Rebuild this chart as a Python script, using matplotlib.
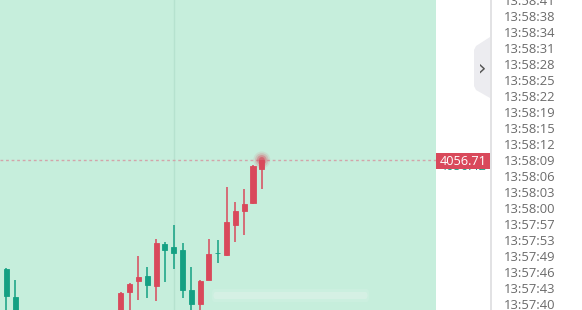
import matplotlib
matplotlib.use("Agg")
import matplotlib.pyplot as plt
from matplotlib.patches import Rectangle, Polygon, FancyBboxPatch

# ---------------- data ----------------
idx    = [0, 1, 13, 14, 15, 16, 17, 18, 19, 20, 21, 22, 23, 24, 25, 26, 27, 28, 29]
opens  = [4051.26, 4049.86, 4048.81, 4050.11, 4050.66, 4050.91, 4050.41, 4052.51, 4052.36, 4052.21,
          4050.21, 4049.51, 4050.71, 4052.06, 4051.96, 4053.46, 4054.16, 4054.56, 4056.26]
highs  = [4051.31, 4050.71, 4050.11, 4050.56, 4051.91, 4051.36, 4052.76, 4052.61, 4053.46, 4052.56,
          4051.36, 4050.71, 4052.76, 4052.71, 4055.36, 4054.61, 4055.26, 4056.46, 4056.71]
lows   = [4048.80, 4048.50, 4048.60, 4048.96, 4049.71, 4049.81, 4049.66, 4050.61, 4051.26, 4049.81,
          4049.11, 4049.11, 4050.71, 4051.56, 4051.91, 4052.61, 4052.96, 4054.51, 4055.26]
closes = [4049.91, 4048.71, 4050.06, 4050.51, 4050.86, 4050.46, 4052.56, 4052.21, 4052.06, 4050.21,
          4049.51, 4050.66, 4052.01, 4052.04, 4053.61, 4054.16, 4054.51, 4056.41, 4056.71]
last_price = 4056.71
other_price = 4056.42
grid_index = 19
time_labels = ["13:58:41", "13:58:38", "13:58:34", "13:58:31", "13:58:28", "13:58:25",
               "13:58:22", "13:58:19", "13:58:15", "13:58:12", "13:58:09", "13:58:06",
               "13:58:03", "13:58:00", "13:57:57", "13:57:53", "13:57:49", "13:57:46",
               "13:57:43", "13:57:40"]

# ---------------- style ----------------
BG = "#c6eedc"
UP = "#d9495b"
DOWN = "#14a083"
W, H = 582, 310
plt.rcParams['font.family'] = ['Open Sans', 'DejaVu Sans']

fig = plt.figure(figsize=(W / 100, H / 100), dpi=100)
fig.patch.set_facecolor("white")

ax = fig.add_axes([0, 0, 436 / W, 1])
ax.set_facecolor(BG)
step = 8.81
x0 = -6.3 / step
ax.set_xlim(x0, x0 + 436 / step)
ptop = last_price + 160 * 0.05
ax.set_ylim(ptop - 310 * 0.05, ptop)
for s in ax.spines.values():
    s.set_visible(False)
ax.set_xticks([])
ax.set_yticks([])

# vertical grid line
ax.axvline(grid_index, color="#b6e2cf", lw=1.0, zorder=1)
# dotted price line
ax.axhline(last_price, color="#d3a4aa", lw=1.0, ls=(0, (2, 2)), zorder=2)

# candles
for i, o, h, l, c in zip(idx, opens, highs, lows, closes):
    col = UP if c >= o else DOWN
    ax.vlines(i, l, h, color=col, lw=1.1, zorder=3)
    lo, hi = min(o, c), max(o, c)
    ax.bar(i, max(hi - lo, 0.01), bottom=lo, width=0.58, color=col,
           edgecolor=col, linewidth=0.6, zorder=4)

# glow on last candle
li, lc = idx[-1], closes[-1]
for r, a in [(150, 0.10), (95, 0.18), (50, 0.35), (18, 0.6)]:
    ax.scatter([li], [lc], s=r, color=UP, alpha=a, edgecolors="none", zorder=5)

# faint blurred watermark at bottom
for pad, a in [(0.0, 0.18), (0.15, 0.08)]:
    ax.add_patch(FancyBboxPatch((x0 + 213 / step, ptop - 299 * 0.05), 155 / step, 7 * 0.05,
                                boxstyle=f"round,pad={pad},rounding_size=0.3",
                                facecolor="#e8f5ef", alpha=a * 2, edgecolor="none", zorder=2))

# ---------------- right panel (figure pixel coords) ----------------
def fx(px):
    return px / W

def fy(py):
    return 1 - py / H

# separator line
fig.add_artist(Rectangle((fx(489.5), 0), 2 / W, 1, transform=fig.transFigure,
                         facecolor="#e2e2e4", edgecolor="none"))
# collapse tab
tab = Polygon([(fx(490), fy(37)), (fx(476), fy(46)), (fx(474), fy(50)), (fx(474), fy(86)),
               (fx(476), fy(90)), (fx(490), fy(98))], closed=True,
              transform=fig.transFigure, facecolor="#ececf0", edgecolor="none")
fig.add_artist(tab)
fig.text(fx(482), fy(68), "›", ha="center", va="center", fontsize=15,
         color="#555555", family=['DejaVu Sans'])

# green secondary price label (mostly hidden)
fig.text(fx(463), fy(166), f"{other_price:.2f}", ha="center", va="center",
         fontsize=9.2, color=DOWN, zorder=5)
# red price label
fig.add_artist(Rectangle((fx(436), fy(169)), 54 / W, 16 / H, transform=fig.transFigure,
                         facecolor=UP, edgecolor="none", zorder=6))
fig.text(fx(463), fy(161), f"{last_price:.2f}", ha="center", va="center",
         fontsize=9.2, color="white", zorder=7)

# time labels
for k, t in enumerate(time_labels):
    fig.text(fx(503.5), fy(1.5 + 16.0 * k), t, ha="left", va="center",
             fontsize=9.4, color="#6b6b6b")

fig.savefig("out.png", dpi=100, facecolor="white")
